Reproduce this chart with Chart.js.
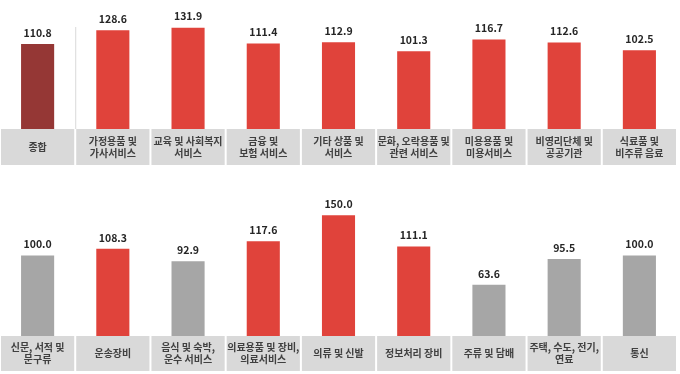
<!DOCTYPE html>
<html>
<head>
<meta charset="utf-8">
<script src="https://cdn.jsdelivr.net/npm/chart.js@4/dist/chart.umd.min.js"></script>
<style>
    body { margin: 0; background: #fff; }
    .row { position: absolute; left: 0; width: 680px; height: 187px; }
    #row1 { top: 0; }
    #row2 { top: 187px; }
</style>
</head>
<body>
<div class="row" id="row1"><canvas id="topChart" width="680" height="187"></canvas></div>
<div class="row" id="row2"><canvas id="bottomChart" width="680" height="187"></canvas></div>
<script>
const topLabels = [
    ['종합'],
    ['가정용품 및', '가사서비스'],
    ['교육 및 사회복지', '서비스'],
    ['금융 및', '보험 서비스'],
    ['기타 상품 및', '서비스'],
    ['문화, 오락용품 및', '관련 서비스'],
    ['미용용품 및', '미용서비스'],
    ['비영리단체 및', '공공기관'],
    ['식료품 및', '비주류 음료']
];
const topValues = [110.8, 128.6, 131.9, 111.4, 112.9, 101.3, 116.7, 112.6, 102.5];

const bottomLabels = [
    ['신문, 서적 및', '문구류'],
    ['운송장비'],
    ['음식 및 숙박,', '운수 서비스'],
    ['의료용품 및 장비,', '의료서비스'],
    ['의류 및 신발'],
    ['정보처리 장비'],
    ['주류 및 담배'],
    ['주택, 수도, 전기,', '연료'],
    ['통신']
];
const bottomValues = [100.0, 108.3, 92.9, 117.6, 150.0, 111.1, 63.6, 95.5, 100.0];

const DARK_RED = '#953735';
const RED = '#e0433b';
const GRAY = '#a6a6a6';
const FONT = "'Noto Sans CJK KR', 'Noto Sans', sans-serif";

// draws grey label boxes under each bar, labels and value tags
const boxPlugin = {
    id: 'boxes',
    afterDraw(chart, args, opts) {
        const ctx = chart.ctx;
        const xs = chart.scales.x;
        const area = chart.chartArea;
        const n = chart.data.labels.length;
        const cell = (area.right - area.left) / n;
        ctx.save();
        for (let i = 0; i < n; i++) {
            const cx = xs.getPixelForValue(i);
            const left = cx - cell / 2 + 1;
            ctx.fillStyle = '#d9d9d9';
            ctx.fillRect(left, area.bottom, cell - 2, opts.boxHeight);

            const lines = chart.data.labels[i];
            ctx.fillStyle = '#404040';
            ctx.font = 'bold 10px ' + FONT;
            ctx.textAlign = 'center';
            ctx.textBaseline = 'middle';
            const mid = area.bottom + opts.boxHeight / 2;
            const lh = 12;
            lines.forEach((line, j) => {
                ctx.fillText(line, cx, mid + (j - (lines.length - 1) / 2) * lh);
            });
        }
        // value labels
        const meta = chart.getDatasetMeta(0);
        ctx.fillStyle = '#262626';
        ctx.font = 'bold 10.5px ' + FONT;
        ctx.textBaseline = 'bottom';
        meta.data.forEach((bar, i) => {
            const v = chart.data.datasets[0].data[i];
            ctx.fillText(v.toFixed(1), bar.x, bar.y - 6);
        });
        if (opts.separator) {
            const sx = area.left + cell;
            ctx.strokeStyle = '#d9d9d9';
            ctx.lineWidth = 1;
            ctx.beginPath();
            ctx.moveTo(sx + 0.5, 27);
            ctx.lineTo(sx + 0.5, area.bottom);
            ctx.stroke();
        }
        ctx.restore();
    }
};

function makeChart(id, labels, values, colors, axisHeight, yMax, boxHeight, separator) {
    return new Chart(document.getElementById(id), {
        type: 'bar',
        data: {
            labels: labels,
            datasets: [{
                data: values,
                backgroundColor: colors,
                barPercentage: 0.44,
                categoryPercentage: 1
            }]
        },
        options: {
            responsive: false,
            animation: false,
            layout: { padding: { left: 0, right: 3, top: 0, bottom: 0 } },
            plugins: {
                legend: { display: false },
                tooltip: { enabled: false },
                boxes: { boxHeight: boxHeight, separator: separator }
            },
            scales: {
                x: {
                    grid: { display: false },
                    border: { display: false },
                    ticks: { display: false },
                    afterFit: (scale) => { scale.height = axisHeight; }
                },
                y: {
                    display: false,
                    min: 0,
                    max: yMax
                }
            }
        },
        plugins: [boxPlugin]
    });
}

const topColors = topValues.map((v, i) => i === 0 ? DARK_RED : RED);
const bottomColors = bottomValues.map(v => v > 100 ? RED : GRAY);

makeChart('topChart', topLabels, topValues, topColors, 58, 168, 36, true);
makeChart('bottomChart', bottomLabels, bottomValues, bottomColors, 38, 185, 35, false);
</script>
</body>
</html>
